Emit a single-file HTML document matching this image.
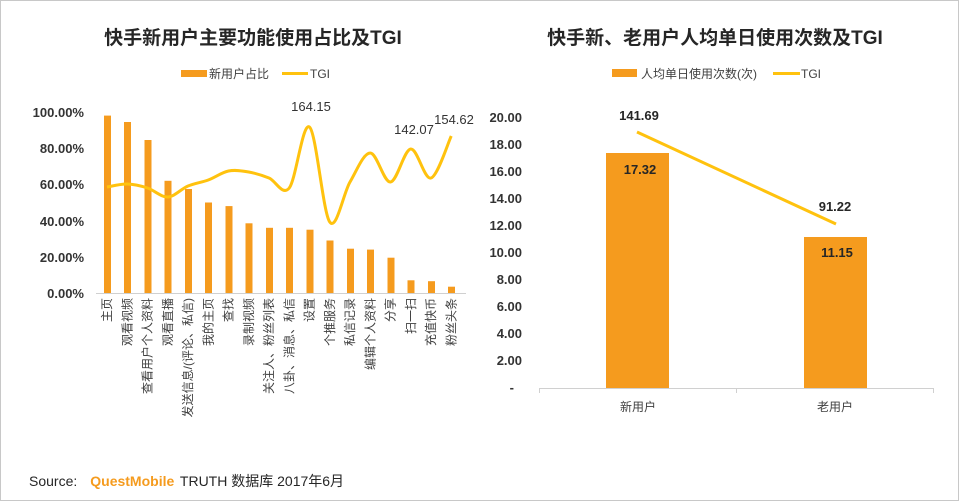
<!DOCTYPE html>
<html><head><meta charset="utf-8"><style>
html,body{margin:0;padding:0;background:#fff}
svg{display:block}
text{font-family:"Liberation Sans","Noto Sans CJK SC",sans-serif}
</style></head><body>
<svg width="960" height="502" viewBox="0 0 960 502" xmlns="http://www.w3.org/2000/svg">
<rect x="0.5" y="0.5" width="958" height="500" fill="#fff" stroke="#c8c8c8"/>
<text x="253" y="44" text-anchor="middle" font-size="19" font-weight="bold" fill="#262626">快手新用户主要功能使用占比及TGI</text>
<text x="715" y="44" text-anchor="middle" font-size="19" font-weight="bold" fill="#262626">快手新、老用户人均单日使用次数及TGI</text>

<rect x="181" y="70" width="26" height="7" fill="#F59B1E"/>
<text x="209" y="78" font-size="12" fill="#404040">新用户占比</text>
<line x1="282" y1="73.5" x2="308" y2="73.5" stroke="#FFC20E" stroke-width="3"/>
<text x="310" y="78" font-size="12" fill="#404040">TGI</text>

<g font-size="13" font-weight="bold" fill="#333" text-anchor="end">
<text x="84" y="117">100.00%</text>
<text x="84" y="153">80.00%</text>
<text x="84" y="189">60.00%</text>
<text x="84" y="226">40.00%</text>
<text x="84" y="262">20.00%</text>
<text x="84" y="298">0.00%</text>
</g>
<line x1="96" y1="293.5" x2="466" y2="293.5" stroke="#d0d0d0"/>

<g fill="#F59B1E">
<rect x="104" y="115.6" width="7" height="177.4"/>
<rect x="124" y="122" width="7" height="171"/>
<rect x="144.5" y="140" width="7" height="153"/>
<rect x="164.5" y="180.8" width="7" height="112.2"/>
<rect x="185" y="189" width="7" height="104"/>
<rect x="205" y="202.5" width="7" height="90.5"/>
<rect x="225.5" y="206.1" width="7" height="86.9"/>
<rect x="245.5" y="223.3" width="7" height="69.7"/>
<rect x="266" y="227.8" width="7" height="65.2"/>
<rect x="286" y="227.8" width="7" height="65.2"/>
<rect x="306.5" y="229.7" width="7" height="63.3"/>
<rect x="326.5" y="240.5" width="7" height="52.5"/>
<rect x="347" y="248.7" width="7" height="44.3"/>
<rect x="367" y="249.6" width="7" height="43.4"/>
<rect x="387.5" y="257.7" width="7" height="35.3"/>
<rect x="407.5" y="280.3" width="7" height="12.7"/>
<rect x="428" y="281.2" width="7" height="11.8"/>
<rect x="448" y="286.7" width="7" height="6.3"/>
</g>

<path d="M107 187 C110.4 186.5 120.5 183.8 127.25 184 S140.75 185.8 147.5 188 S161 197.3 167.75 197 S181.25 188.8 188 186 S201.5 182.5 208.25 180 S221.75 172.3 228.5 171 S242 170.8 248.75 172 S262.25 175.3 269 178 S282.5 196.5 289.25 188 S302.75 121.3 309.5 127 S323 212.8 329.75 222 S343.25 193.5 350 182 S363.5 153 370.25 153 S383.75 182.7 390.5 182 S404 149.7 410.75 149 S424.25 180.2 431 178 S447.9 143 451.25 136" fill="none" stroke="#FFC20E" stroke-width="3"/>
<g font-size="13" fill="#333" text-anchor="middle">
<text x="311" y="111">164.15</text>
<text x="414" y="134">142.07</text>
<text x="454" y="124">154.62</text>
</g>

<g font-size="12" fill="#404040" text-anchor="end">
<text transform="translate(111,298) rotate(-90)">主页</text>
<text transform="translate(131.25,298) rotate(-90)">观看视频</text>
<text transform="translate(151.5,298) rotate(-90)">查看用户个人资料</text>
<text transform="translate(171.75,298) rotate(-90)">观看直播</text>
<text transform="translate(192,298) rotate(-90)">发送信息/(评论、私信)</text>
<text transform="translate(212.25,298) rotate(-90)">我的主页</text>
<text transform="translate(232.5,298) rotate(-90)">查找</text>
<text transform="translate(252.75,298) rotate(-90)">录制视频</text>
<text transform="translate(273,298) rotate(-90)">关注人、粉丝列表</text>
<text transform="translate(293.25,298) rotate(-90)">八卦、消息、私信</text>
<text transform="translate(313.5,298) rotate(-90)">设置</text>
<text transform="translate(333.75,298) rotate(-90)">个推服务</text>
<text transform="translate(354,298) rotate(-90)">私信记录</text>
<text transform="translate(374.25,298) rotate(-90)">编辑个人资料</text>
<text transform="translate(394.5,298) rotate(-90)">分享</text>
<text transform="translate(414.75,298) rotate(-90)">扫一扫</text>
<text transform="translate(435,298) rotate(-90)">充值快币</text>
<text transform="translate(455.25,298) rotate(-90)">粉丝头条</text>
</g>

<rect x="612" y="69" width="25" height="8" fill="#F59B1E"/>
<text x="641" y="78" font-size="12" fill="#404040">人均单日使用次数(次)</text>
<line x1="773" y1="73.5" x2="800" y2="73.5" stroke="#FFC20E" stroke-width="3"/>
<text x="801" y="78" font-size="12" fill="#404040">TGI</text>

<g font-size="13" font-weight="bold" fill="#333" text-anchor="end">
<text x="522" y="122">20.00</text>
<text x="522" y="149">18.00</text>
<text x="522" y="176">16.00</text>
<text x="522" y="203">14.00</text>
<text x="522" y="230">12.00</text>
<text x="522" y="257">10.00</text>
<text x="522" y="284">8.00</text>
<text x="522" y="311">6.00</text>
<text x="522" y="338">4.00</text>
<text x="522" y="365">2.00</text>
<text x="514" y="392">-</text>
</g>
<line x1="539" y1="388.5" x2="934" y2="388.5" stroke="#d0d0d0"/>
<line x1="539.5" y1="388" x2="539.5" y2="393" stroke="#d0d0d0"/>
<line x1="736.5" y1="388" x2="736.5" y2="393" stroke="#d0d0d0"/>
<line x1="933.5" y1="388" x2="933.5" y2="393" stroke="#d0d0d0"/>

<rect x="606" y="153" width="63" height="235" fill="#F59B1E"/>
<rect x="804" y="237" width="63" height="151" fill="#F59B1E"/>
<line x1="637" y1="132" x2="836" y2="224" stroke="#FFC20E" stroke-width="3"/>
<g font-size="13" font-weight="bold" fill="#262626" text-anchor="middle">
<text x="639" y="120">141.69</text>
<text x="835" y="211">91.22</text>
<text x="640" y="174">17.32</text>
<text x="837" y="257">11.15</text>
</g>
<g font-size="12" fill="#404040" text-anchor="middle">
<text x="638" y="411">新用户</text>
<text x="835" y="411">老用户</text>
</g>

<text x="29" y="486" font-size="14" fill="#262626">Source:<tspan dx="13" font-weight="bold" fill="#F59B1E">QuestMobile</tspan><tspan dx="2"> TRUTH 数据库 2017年6月</tspan></text>
</svg>
</body></html>
